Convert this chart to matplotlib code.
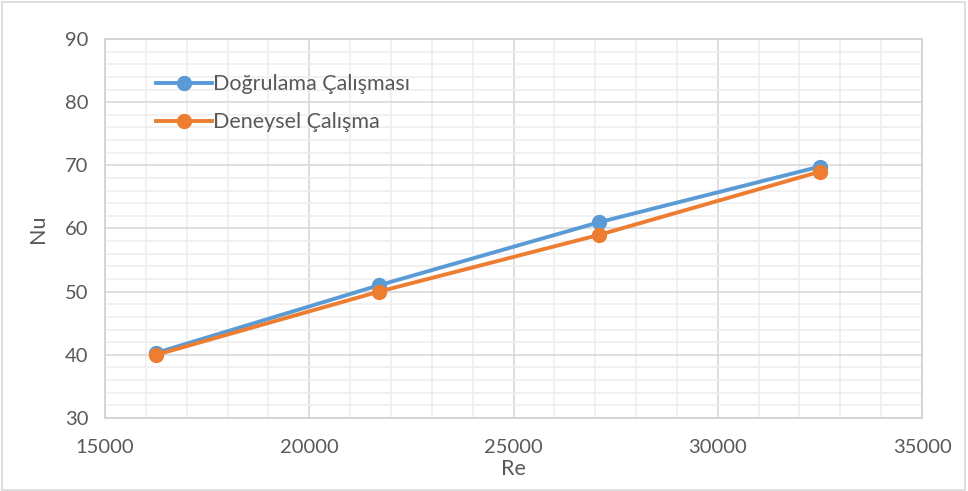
import matplotlib.pyplot as plt
from matplotlib.ticker import MultipleLocator

plt.rcParams["font.family"] = ["Lato", "DejaVu Sans"]

# Reynolds numbers and Nusselt numbers for both studies
re_vals = [16250, 21700, 27100, 32500]
nu_dogrulama = [40.3, 51.0, 61.0, 69.8]
nu_deneysel = [40.0, 50.0, 59.0, 69.0]

text_color = "#595959"

fig = plt.figure(figsize=(9.68, 4.91), dpi=100)
ax = fig.add_axes([105 / 968, 1 - 418 / 491, 817 / 968, 379 / 491])

ax.plot(re_vals, nu_dogrulama, color="#5b9bd5", lw=2.8, marker="o", ms=10,
        label="Doğrulama Çalışması", zorder=3)
ax.plot(re_vals, nu_deneysel, color="#ed7d31", lw=2.8, marker="o", ms=10,
        label="Deneysel Çalışma", zorder=4)

ax.set_xlim(15000, 35000)
ax.set_ylim(30, 90)
ax.xaxis.set_major_locator(MultipleLocator(5000))
ax.xaxis.set_minor_locator(MultipleLocator(1000))
ax.yaxis.set_major_locator(MultipleLocator(10))
ax.yaxis.set_minor_locator(MultipleLocator(2))

ax.grid(which="major", color="#d9d9d9", lw=1.2)
ax.grid(which="minor", color="#efefef", lw=1.2)
ax.set_axisbelow(True)

for s in ax.spines.values():
    s.set_color("#d0d0d0")
    s.set_linewidth(1.2)

ax.tick_params(which="both", length=0, labelsize=14.5, colors=text_color)
ax.tick_params(axis="x", pad=15)
ax.tick_params(axis="y", pad=12)
ax.set_xlabel("Re", fontsize=15.5, color=text_color, labelpad=2)
ax.set_ylabel("Nu", fontsize=15.5, color=text_color, labelpad=12)

ax.legend(loc="upper left", bbox_to_anchor=(0.052, 0.93), frameon=False,
          fontsize=15.5, labelcolor=text_color, handlelength=2.6,
          handletextpad=0.05, labelspacing=0.85, borderaxespad=0)

# thin frame around the whole figure
fig.patches.append(plt.Rectangle((0.002, 0.003), 0.995, 0.993, transform=fig.transFigure,
                                 fill=False, edgecolor="#d9d9d9", lw=1.2))

fig.savefig("out.png", dpi=100)
